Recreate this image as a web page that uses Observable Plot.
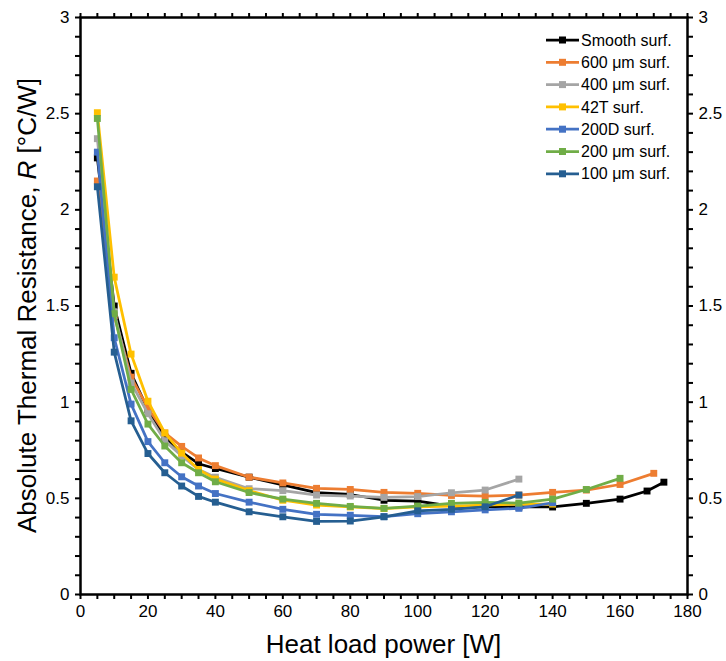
<!DOCTYPE html>
<html>
<head>
<meta charset="utf-8">
<script src="https://cdn.jsdelivr.net/npm/d3@7"></script>
<script src="https://cdn.jsdelivr.net/npm/@observablehq/plot@0.6"></script>
<style>
  html, body { margin: 0; padding: 0; background: #fff; }
  #chart svg { display: block; }
</style>
</head>
<body>
<div id="chart"></div>
<script>
// Heat load power [W] at each measurement, per surface
const powerSmooth = [5, 10, 15, 20, 25, 30, 35, 40, 50, 60, 70, 80, 90, 100, 110, 120, 130, 140, 150, 160, 168, 173];
const power600 = [5, 10, 15, 20, 25, 30, 35, 40, 50, 60, 70, 80, 90, 100, 110, 120, 130, 140, 150, 160, 170];
const power400 = [5, 10, 15, 20, 25, 30, 35, 40, 50, 60, 70, 80, 90, 100, 110, 120, 130];
const power42T = [5, 10, 15, 20, 25, 30, 35, 40, 50, 60, 70, 80, 90, 100, 110, 120, 130, 140];
const power200D = [5, 10, 15, 20, 25, 30, 35, 40, 50, 60, 70, 80, 90, 100, 110, 120, 130, 140];
const power200 = [5, 10, 15, 20, 25, 30, 35, 40, 50, 60, 70, 80, 90, 100, 110, 120, 130, 140, 150, 160];
const power100 = [5, 10, 15, 20, 25, 30, 35, 40, 50, 60, 70, 80, 90, 100, 110, 120, 130];

// Absolute thermal resistance R [°C/W]
const rSmooth = [2.27, 1.50, 1.15, 0.96, 0.82, 0.74, 0.68, 0.655, 0.61, 0.57, 0.53, 0.52, 0.49, 0.485, 0.46, 0.455, 0.455, 0.455, 0.474, 0.496, 0.538, 0.584];
const r600 = [2.15, 1.45, 1.13, 0.97, 0.84, 0.77, 0.71, 0.67, 0.61, 0.58, 0.552, 0.546, 0.531, 0.526, 0.515, 0.512, 0.517, 0.531, 0.543, 0.572, 0.63];
const r400 = [2.37, 1.47, 1.10, 0.94, 0.80, 0.72, 0.65, 0.61, 0.55, 0.54, 0.517, 0.512, 0.505, 0.509, 0.529, 0.543, 0.60];
const r42T = [2.505, 1.65, 1.25, 1.005, 0.84, 0.735, 0.65, 0.60, 0.54, 0.49, 0.465, 0.455, 0.447, 0.455, 0.46, 0.465, 0.47, 0.47];
const r200D = [2.30, 1.335, 0.99, 0.795, 0.685, 0.612, 0.564, 0.525, 0.48, 0.443, 0.417, 0.412, 0.405, 0.42, 0.43, 0.44, 0.448, 0.477];
const r200 = [2.475, 1.46, 1.066, 0.886, 0.772, 0.685, 0.633, 0.586, 0.53, 0.496, 0.474, 0.458, 0.448, 0.46, 0.474, 0.479, 0.475, 0.496, 0.546, 0.604];
const r100 = [2.12, 1.26, 0.903, 0.733, 0.633, 0.564, 0.51, 0.48, 0.43, 0.404, 0.38, 0.382, 0.404, 0.435, 0.443, 0.456, 0.517];

// Series names and colours, in drawing / legend order
const seriesNames = ["Smooth surf.", "600 μm surf.", "400 μm surf.", "42T surf.", "200D surf.", "200 μm surf.", "100 μm surf."];
const seriesColors = ["#000000", "#ED7D31", "#A5A5A5", "#FFC000", "#4472C4", "#70AD47", "#255E91"];
const seriesPower = [powerSmooth, power600, power400, power42T, power200D, power200, power100];
const seriesR = [rSmooth, r600, r400, r42T, r200D, r200, r100];

// Axis ticks
const xTicks = d3.range(0, 181, 5);
const xLabelEvery = 20;
const yTicks = d3.range(0, 31).map(i => i / 10);
const yLabelEvery = 0.5;

// Long-format table
const rows = seriesNames.flatMap((name, i) =>
  seriesPower[i].map((p, j) => ({series: name, power: p, r: seriesR[i][j]}))
);

const W = 726, H = 661;
const M = {left: 80, right: 39, top: 17, bottom: 67};
const font = "'Liberation Sans', Arial, sans-serif";

const xFmt = d => (d % xLabelEvery === 0 ? String(d) : "");
const yFmt = d => (Math.abs(d / yLabelEvery - Math.round(d / yLabelEvery)) < 1e-6 ? String(+d.toFixed(1)) : "");

// one line + square markers per series, so later series sit on top
const seriesMarks = seriesNames.flatMap(name => {
  const sub = rows.filter(d => d.series === name);
  return [
    Plot.line(sub, {x: "power", y: "r", stroke: "series", strokeWidth: 2.75, strokeLinejoin: "round"}),
    Plot.dot(sub, {x: "power", y: "r", fill: "series", symbol: "square", r: 3.9, stroke: "none"})
  ];
});

const chart = Plot.plot({
  width: W,
  height: H,
  marginLeft: M.left,
  marginRight: M.right,
  marginTop: M.top,
  marginBottom: M.bottom,
  style: {fontFamily: font, fontSize: "17px", color: "#000", background: "#fff", overflow: "visible"},
  x: {domain: [0, 180]},
  y: {domain: [0, 3]},
  color: {domain: seriesNames, range: seriesColors},
  marks: [
    ...seriesMarks,
    Plot.frame({stroke: "#000", strokeWidth: 2.5}),
    Plot.axisX({ticks: xTicks, tickFormat: xFmt, tickSize: 5, tickPadding: 5, strokeWidth: 2, label: null}),
    Plot.axisX({anchor: "top", ticks: xTicks, tickFormat: () => "", tickSize: 5, strokeWidth: 2, label: null}),
    Plot.axisY({anchor: "left", ticks: yTicks, tickFormat: yFmt, tickSize: 5, tickPadding: 6, strokeWidth: 2, label: null}),
    Plot.axisY({anchor: "right", ticks: yTicks, tickFormat: yFmt, tickSize: 5, tickPadding: 6, strokeWidth: 2, label: null})
  ]
});

document.getElementById("chart").appendChild(chart);

const svg = d3.select(chart);

// Axis titles
svg.append("text")
  .attr("x", M.left + (W - M.left - M.right) / 2)
  .attr("y", H - 8)
  .attr("text-anchor", "middle")
  .style("font-family", font)
  .style("font-size", "26px")
  .attr("fill", "#000")
  .text("Heat load power [W]");

const yTitle = svg.append("text")
  .attr("transform", `translate(36,${M.top + (H - M.top - M.bottom) / 2}) rotate(-90)`)
  .attr("text-anchor", "middle")
  .style("font-family", font)
  .style("font-size", "26px")
  .attr("fill", "#000");
yTitle.append("tspan").text("Absolute Thermal Resistance, ");
yTitle.append("tspan").attr("font-style", "italic").text("R");
yTitle.append("tspan").text(" [°C/W]");

// Legend inside the plot area, top right
const legend = svg.append("g").attr("transform", "translate(546,40)");
const rowGap = 22.3;
seriesNames.forEach((name, i) => {
  const g = legend.append("g").attr("transform", `translate(0,${i * rowGap})`);
  g.append("line").attr("x1", 0).attr("x2", 33).attr("y1", 0).attr("y2", 0)
    .attr("stroke", seriesColors[i]).attr("stroke-width", 2.75);
  g.append("rect").attr("x", 16.5 - 3.5).attr("y", -3.5).attr("width", 7).attr("height", 7)
    .attr("fill", seriesColors[i]);
  g.append("text").attr("x", 35).attr("y", 0).attr("dy", "0.35em")
    .attr("text-anchor", "start")
    .style("font-family", font).style("font-size", "16px").attr("fill", "#000")
    .text(name);
});
</script>
</body>
</html>
